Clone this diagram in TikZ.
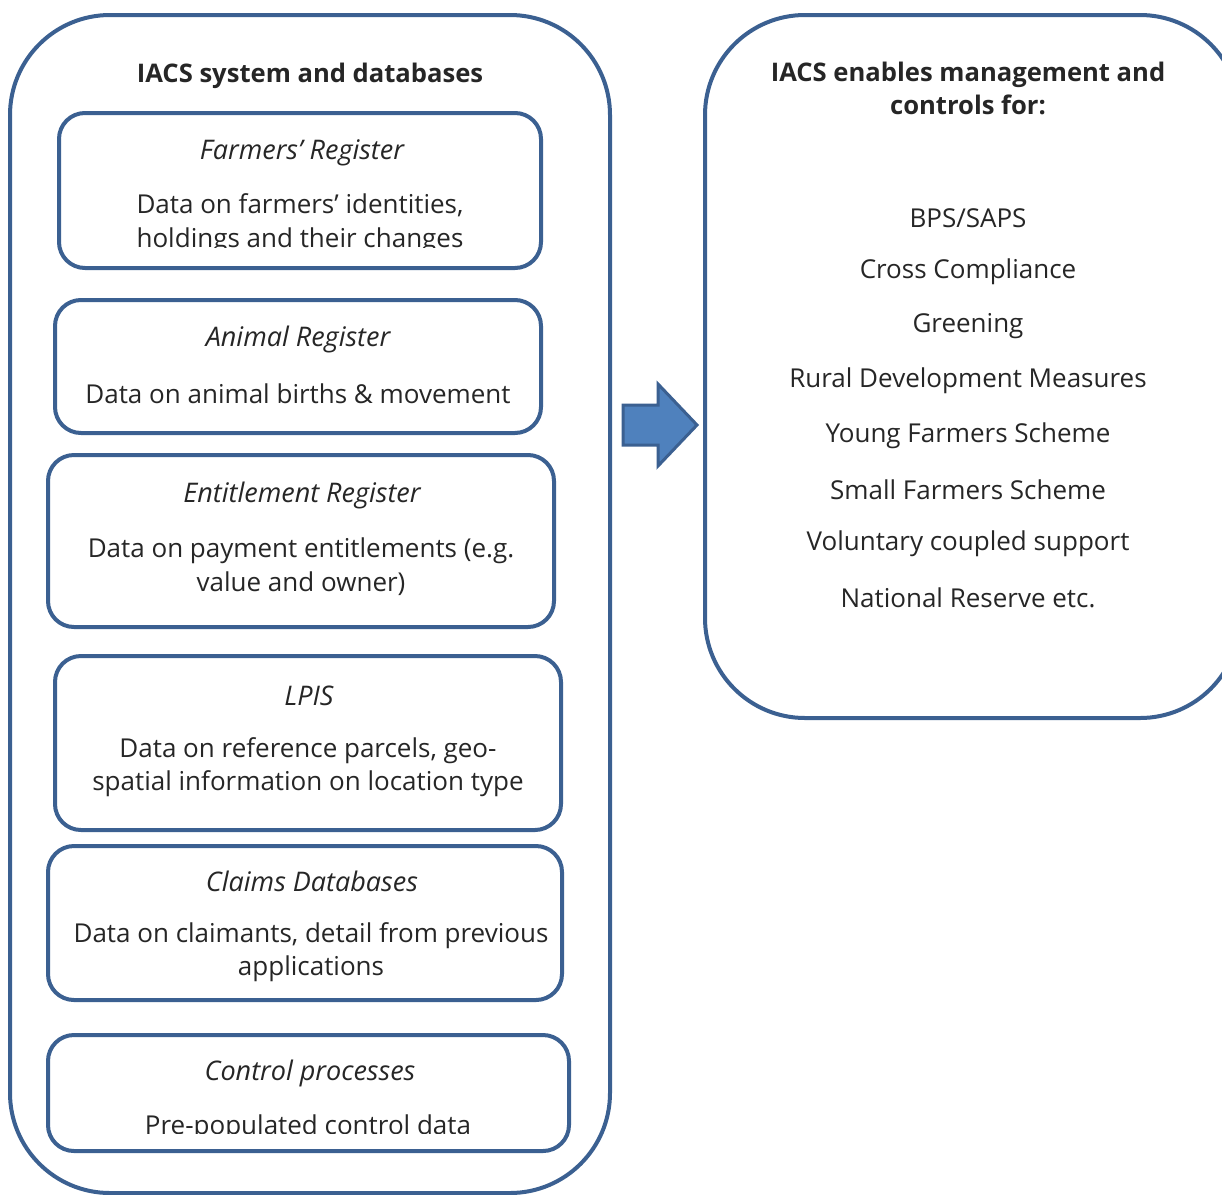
\documentclass[tikz,border=0pt]{standalone}
\usepackage{fontspec}
\setmainfont{Open Sans}
\definecolor{frame}{RGB}{59,96,145}
\definecolor{arrowfill}{RGB}{79,129,189}
\definecolor{ink}{RGB}{38,38,38}
\tikzset{
  outerbox/.style={draw=frame, line width=4pt, rounded corners=100pt},
  innerbox/.style={draw=frame, line width=4pt, rounded corners=26pt},
  ttl/.style={text=ink, font=\fontsize{27}{33}\selectfont\itshape, inner sep=0pt},
  body/.style={text=ink, font=\fontsize{26}{33.5}\selectfont, align=center, inner sep=0pt},
  head/.style={text=ink, font=\fontsize{25.6}{33}\selectfont\bfseries, align=center, inner sep=0pt},
  item/.style={text=ink, font=\fontsize{26}{33}\selectfont, inner sep=0pt},
}
\begin{document}
\begin{tikzpicture}[x=1pt,y=-1pt]
\useasboundingbox (0,0) rectangle (1222,1194);
\fill[white] (0,0) rectangle (1222,1194);
% outer frames
\draw[outerbox] (10,15) rectangle (610,1193);
\draw[outerbox] (705,15) rectangle (1240,718);
% left heading
\node[head] (lhead) at (310,75.5) {IACS system and databases};
% inner boxes
\draw[innerbox] (59,113) rectangle (541,268);
\draw[innerbox] (55,300) rectangle (541,433);
\draw[innerbox] (48,455) rectangle (554,627);
\draw[innerbox] (55,656) rectangle (561,830);
\draw[innerbox] (48,846) rectangle (562,1000);
\draw[innerbox] (48,1035) rectangle (569,1151);
% box texts
\node[ttl] (t1) at (302,153) {Farmers’ Register};
\begin{scope}
\clip (60,180) rectangle (540,247);
\node[body] (b1) at (300,223.5) {Data on farmers’ identities,\\holdings and their changes};
\end{scope}
\node[ttl] (t2) at (298,339) {Animal Register};
\node[body] (b2) at (298,394) {Data on animal births \& movement};
\node[ttl] (t3) at (302,495) {Entitlement Register};
\node[body] (b3) at (301,566.5) {Data on payment entitlements (e.g.\\value and owner)};
\node[ttl] (t4) at (309,696) {LPIS};
\node[body] (b4) at (308,767) {Data on reference parcels, geo-\\spatial information on location type};
\node[ttl] (t5) at (312,881) {Claims Databases};
\node[body] (b5) at (311,952) {Data on claimants, detail from previous\\applications};
\node[ttl] (t6) at (310,1073) {Control processes};
\begin{scope}
\clip (60,1100) rectangle (560,1133);
\node[body] (b6) at (308,1127.5) {Pre-populated control data};
\end{scope}
% arrow
\draw[draw=frame, fill=arrowfill, line width=3pt, line join=miter]
  (623,405) -- (658,405) -- (658,384) -- (697,425) -- (658,466) -- (658,445) -- (623,445) -- cycle;
% right heading
\node[head] (rhead) at (968,88.5) {IACS enables management and\\controls for:};
\node[item] (r1) at (968,218) {BPS/SAPS};
\node[item] (r2) at (968,272) {Cross Compliance};
\node[item] (r3) at (968,326) {Greening};
\node[item] (r4) at (968,381) {Rural Development Measures};
\node[item] (r5) at (968,436) {Young Farmers Scheme};
\node[item] (r6) at (968,490) {Small Farmers Scheme};
\node[item] (r7) at (968,544) {Voluntary coupled support};
\node[item] (r8) at (968,598) {National Reserve etc.};
\end{tikzpicture}
\end{document}
